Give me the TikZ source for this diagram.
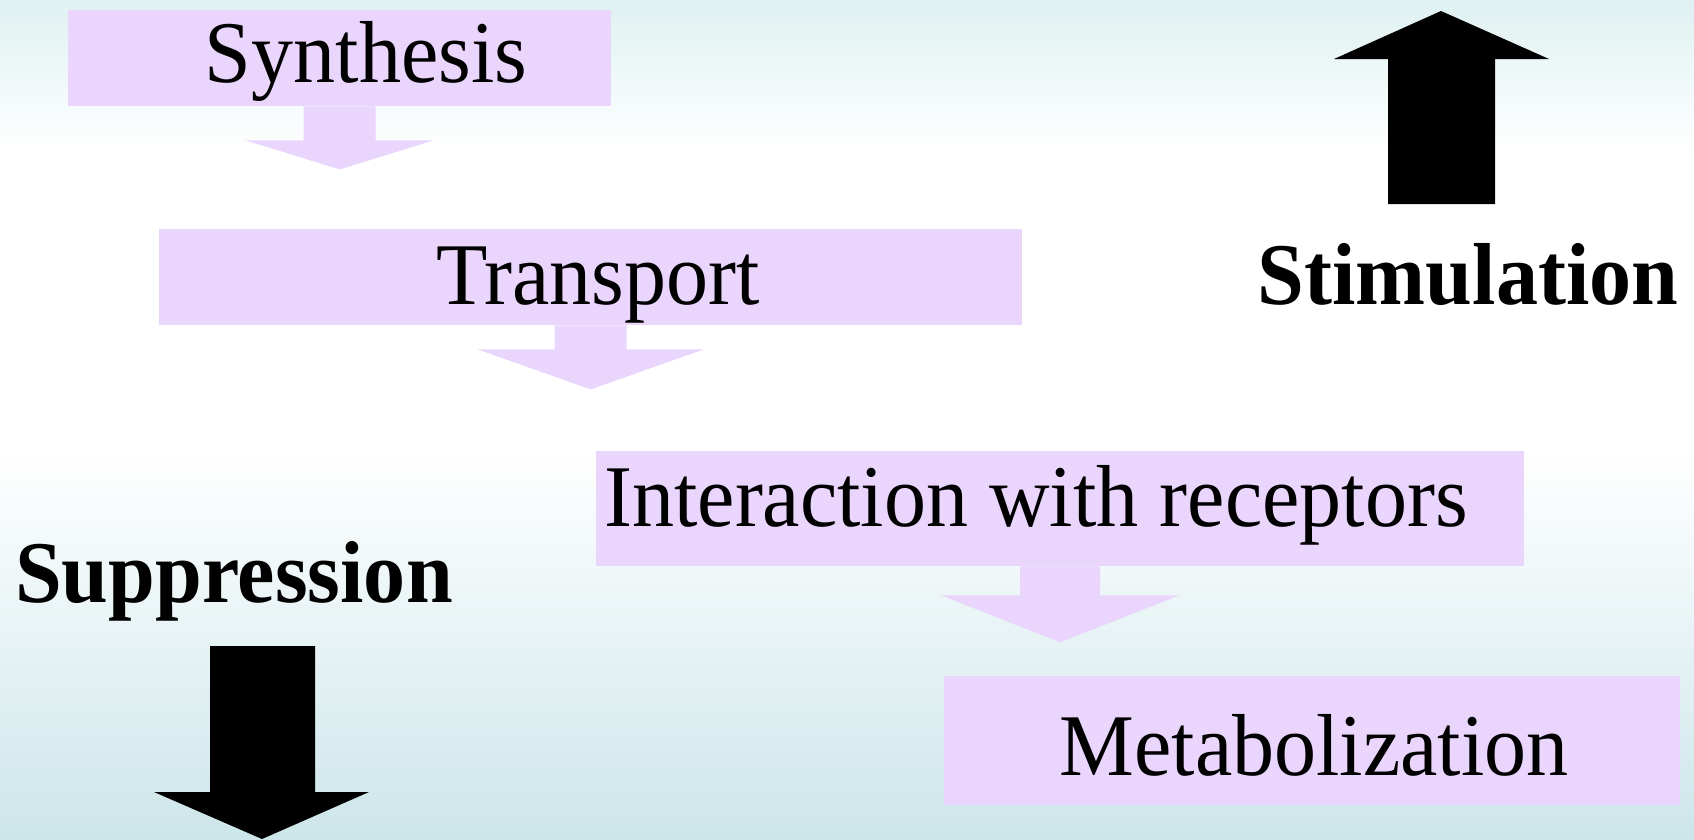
\documentclass[tikz,border=0pt]{standalone}
\usepackage{fontspec}
\setmainfont{Liberation Serif}[FakeStretch=0.955]
\usepackage{xcolor}
\usetikzlibrary{calc}

\definecolor{boxfill}{RGB}{234,213,253}
\definecolor{bgtop}{RGB}{223,241,241}
\definecolor{bgbottom}{RGB}{205,230,234}
\pgfdeclareverticalshading{bgshade}{100bp}{color(0bp)=(bgbottom); color(25bp)=(bgbottom);
  color(48bp)=(white); color(66bp)=(white); color(75bp)=(bgtop); color(100bp)=(bgtop)}

% block arrow under a box: node, stem half width, stem length, head half width, head length
\newcommand{\flowarrow}[5]{%
  \fill[boxfill, shift={(#1.south)}] (-#2,0) -- (-#2,#3) -- (-#4,#3) -- (0,#3+#5)
    -- (#4,#3) -- (#2,#3) -- (#2,0) -- cycle;}

\begin{document}
\begin{tikzpicture}[x=1pt, y=-1pt,
    flowbox/.style={fill=boxfill, inner sep=0pt, anchor=north west},
    flowtext/.style={anchor=base, inner sep=0pt, font=\fontsize{88}{100}\selectfont},
    sidetext/.style={anchor=base, inner sep=0pt, font=\fontsize{88}{100}\selectfont\bfseries},
    bigarrow/.style={fill=black}]
    \useasboundingbox (0,0) rectangle (1694,839);
    % =====================
    % Background
    % =====================
    \shade[shading=bgshade] (0,0) rectangle (1694,839);

    % =====================
    % Steps
    % =====================
    \node[flowbox, minimum width=543pt, minimum height=96pt] (synth) at (68,10) {};
    \node[flowtext] (synthT) at (366,82) {Synthesis};
    \flowarrow{synth}{36}{34}{94}{29}

    \node[flowbox, minimum width=863pt, minimum height=96pt] (trans) at (159,229) {};
    \node[flowtext] (transT) at (598,304) {Transport};
    \flowarrow{trans}{36}{24}{113}{40}

    \node[flowbox, minimum width=928pt, minimum height=115pt] (inter) at (596,451) {};
    \node[flowtext] (interT) at (1036,526) {Interaction with receptors};
    \flowarrow{inter}{40}{29}{119}{47}

    \node[flowbox, minimum width=736pt, minimum height=129pt] (metab) at (944,676) {};
    \node[flowtext] (metabT) at (1314,775) {Metabolization};

    % =====================
    % Stimulation / Suppression
    % =====================
    \node[sidetext] (stim) at (1468,304) {Stimulation};
    \fill[bigarrow] (1388,204) -- (1388,59) -- (1334,59) -- (1441,11) -- (1549,59)
        -- (1495,59) -- (1495,204) -- cycle;

    \node[sidetext] (supp) at (234,602) {Suppression};
    \fill[bigarrow] (210,646) -- (210,792) -- (154,792) -- (262,839) -- (369,792)
        -- (315,792) -- (315,646) -- cycle;
\end{tikzpicture}
\end{document}
